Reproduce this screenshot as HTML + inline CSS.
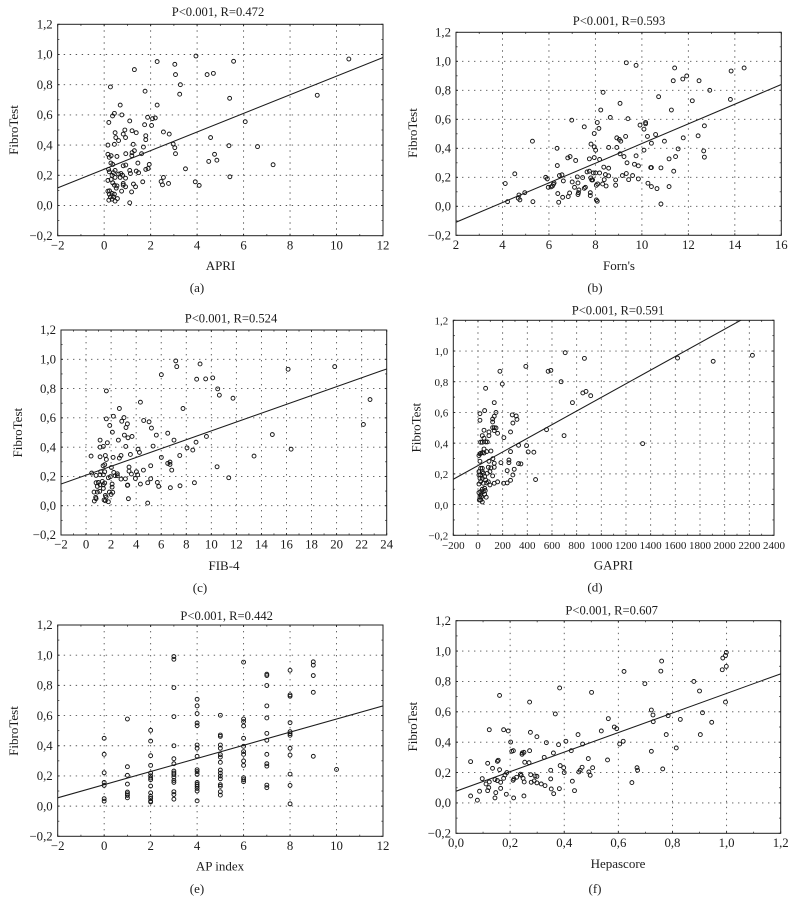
<!DOCTYPE html>
<html lang="en">
<head>
<meta charset="utf-8">
<title>FibroTest correlation scatter plots</title>
<style>
html,body{margin:0;padding:0;background:#fff;}
svg{display:block;}
text{font-family:"Liberation Serif",serif;fill:#1c1c1c;}
.title{font-size:12.6px;text-anchor:middle;}
.axis-title{font-size:13px;text-anchor:middle;}
.caption{font-size:13px;text-anchor:middle;}
</style>
</head>
<body>
<svg id="chart" xmlns="http://www.w3.org/2000/svg" width="796" height="915" viewBox="0 0 796 915">
<g id="panel-a">
<text class="title" x="218" y="16">P&lt;0.001, R=0.472</text>
<text class="axis-title" x="220.5" y="270">APRI</text>
<text class="axis-title" transform="translate(18,130) rotate(-90)">FibroTest</text>
<text class="caption" x="197" y="292">(a)</text>
</g>
<g id="panel-b">
<text class="title" x="619" y="25">P&lt;0.001, R=0.593</text>
<text class="axis-title" x="619" y="270">Forn's</text>
<text class="axis-title" transform="translate(417,133) rotate(-90)">FibroTest</text>
<text class="caption" x="595" y="292">(b)</text>
</g>
<g id="panel-c">
<text class="title" x="231" y="322.7">P&lt;0.001, R=0.524</text>
<text class="axis-title" x="224" y="570">FIB-4</text>
<text class="axis-title" transform="translate(22,432.7) rotate(-90)">FibroTest</text>
<text class="caption" x="200" y="592">(c)</text>
</g>
<g id="panel-d">
<text class="title" x="618" y="314.3">P&lt;0.001, R=0.591</text>
<text class="axis-title" x="613.3" y="569.3">GAPRI</text>
<text class="axis-title" transform="translate(420.5,427.7) rotate(-90)">FibroTest</text>
<text class="caption" x="595" y="591.7">(d)</text>
</g>
<g id="panel-e">
<text class="title" x="226.7" y="620">P&lt;0.001, R=0.442</text>
<text class="axis-title" x="220" y="870.7">AP index</text>
<text class="axis-title" transform="translate(18,731) rotate(-90)">FibroTest</text>
<text class="caption" x="197" y="893">(e)</text>
</g>
<g id="panel-f">
<text class="title" x="611.7" y="614.3">P&lt;0.001, R=0.607</text>
<text class="axis-title" x="618" y="868">Hepascore</text>
<text class="axis-title" transform="translate(417,726.7) rotate(-90)">FibroTest</text>
<text class="caption" x="595" y="893">(f)</text>
</g>
</svg>
<script>
const yTicks = [-0.2,0,0.2,0.4,0.6,0.8,1.0,1.2];

const aXTicks = [-2,0,2,4,6,8,10,12];
const bXTicks = [2,4,6,8,10,12,14,16];
const cXTicks = [-2,0,2,4,6,8,10,12,14,16,18,20,22,24];
const dXTicks = [-200,0,200,400,600,800,1000,1200,1400,1600,1800,2000,2200,2400];
const eXTicks = [-2,0,2,4,6,8,10,12];
const fXTicks = [0,0.2,0.4,0.6,0.8,1.0,1.2];

const aFit = [0.117,0.98];
const bFit = [-0.11,0.84];
const cFit = [0.148,0.934];
const dFit = [0.165,1.32];
const eFit = [0.055,0.664];
const fFit = [0.077,0.85];

const aPoints = [[10.53,.97],[9.17,.73],[7.27,.27],[6.6,.39],[6.07,.555],[5.4,.71],[5.57,.955],[4.7,.875],[4.43,.867],[3.95,.99],[3.04,.935],[3.07,.867],[3.28,.8],[3.25,.737],[2.28,.953],[1.3,.9],[.27,.785],[1.76,.757],[2.28,.665],[.69,.665],[.44,.61],[.36,.593],[.76,.6],[.2,.55],[1.1,.56],[1.87,.584],[2.08,.575],[2.2,.58],[1.74,.535],[2.04,.53],[.47,.482],[.89,.5],[1.2,.495],[1.38,.482],[.82,.473],[.5,.45],[.92,.45],[.62,.43],[.44,.405],[.16,.4],[1.25,.405],[1.79,.462],[1.79,.436],[1.69,.387],[2.55,.487],[2.8,.473],[2.97,.407],[3.04,.383],[3.07,.343],[4.58,.45],[5.37,.396],[4.75,.339],[4.85,.3],[4.5,.292],[5.41,.19],[3.5,.243],[3.92,.157],[4.09,.133],[2.55,.186],[2.45,.159],[2.51,.137],[2.77,.146],[.16,.339],[.3,.33],[.55,.325],[.22,.319],[.93,.343],[1.19,.33],[1.2,.35],[1.3,.363],[1.61,.343],[1.45,.281],[.29,.281],[.37,.272],[.82,.263],[.93,.268],[1.94,.272],[1.89,.245],[1.79,.239],[.19,.239],[.22,.223],[.47,.232],[1.1,.232],[1.38,.228],[1.48,.217],[1.13,.212],[.4,.217],[.34,.2],[.62,.208],[.72,.212],[.79,.2],[.69,.186],[.92,.181],[.47,.186],[.16,.166],[.3,.172],[.37,.15],[.44,.135],[.55,.13],[.82,.146],[.82,.135],[.92,.124],[.52,.115],[1.26,.142],[1.35,.124],[1.66,.157],[.75,.095],[1.18,.09],[.16,.095],[.23,.097],[.34,.08],[.44,.075],[.22,.075],[.27,.057],[.4,.057],[.2,.035],[.34,.042],[.47,.029],[.57,.046],[1.1,.018]];

const bPoints = [[13.84,.933],[14.4,.954],[13.81,.737],[12.92,.8],[12.46,.866],[12.17,.728],[12.69,.555],[12.42,.486],[12.66,.382],[12.69,.339],[11.41,.954],[11.35,.866],[11.76,.878],[11.93,.899],[11.27,.664],[11.78,.472],[11.56,.396],[11.45,.343],[11.17,.327],[11.37,.242],[11.17,.136],[10.72,.756],[10.59,.495],[10.97,.449],[10.82,.265],[10.82,.016],[10.41,.435],[10.24,.482],[10.16,.578],[10.16,.569],[10.09,.532],[9.92,.56],[10.09,.387],[10.38,.267],[10.41,.267],[10.26,.159],[10.41,.136],[10.65,.122],[9.06,.71],[9.33,.99],[9.75,.972],[9.4,.604],[8.33,.786],[8.23,.664],[8.64,.613],[8.08,.578],[8.15,.537],[7.95,.502],[6.98,.594],[7.52,.548],[8.92,.472],[9.03,.461],[9.09,.449],[9.3,.482],[8.92,.406],[8.57,.406],[7.81,.429],[7.95,.41],[8.01,.387],[9.06,.362],[9.23,.343],[9.75,.348],[9.36,.3],[9.68,.29],[9.85,.279],[7.95,.336],[7.74,.327],[8.18,.323],[6.81,.334],[6.91,.343],[7.15,.316],[6.35,.4],[5.29,.449],[6.36,.281],[4.53,.224],[4.12,.157],[8.36,.27],[8.57,.263],[7.64,.237],[7.74,.242],[7.91,.23],[8.01,.23],[8.18,.23],[8.43,.219],[8.57,.21],[9.16,.212],[9.33,.226],[9.6,.212],[9.43,.184],[9.85,.189],[8.87,.182],[8.87,.145],[8.46,.14],[8.31,.154],[8.1,.154],[8.04,.145],[8.38,.184],[7.8,.196],[7.84,.182],[7.88,.182],[7.45,.198],[7.22,.203],[7,.168],[7.25,.161],[5.86,.2],[5.93,.189],[6.45,.212],[6.56,.217],[6.62,.175],[6.22,.161],[6.19,.152],[6.15,.14],[6.09,.134],[5.97,.131],[7.1,.131],[7.29,.113],[7.27,.094],[7.25,.081],[6.89,.092],[6.83,.067],[6.59,.062],[6.38,.088],[7.78,.094],[7.78,.074],[7.52,.124],[7.57,.131],[4.96,.094],[4.71,.078],[4.68,.055],[4.75,.044],[5.31,.032],[4.22,.032],[6.42,.028],[8.04,.044],[8.08,.035]];

const cPoints = [[19.85,.95],[16.13,.932],[22.67,.725],[22.14,.555],[16.37,.386],[14.87,.486],[13.41,.339],[11.39,.191],[11.73,.734],[10.64,.755],[10.51,.798],[10.11,.873],[9.55,.866],[8.83,.864],[9.1,.968],[7.16,.989],[7.24,.95],[6.01,.895],[1.62,.784],[4.34,.707],[2.66,.664],[7.74,.664],[2.18,.611],[3.03,.602],[1.62,.593],[2.85,.577],[3.3,.559],[1.89,.548],[3.19,.534],[4.6,.582],[5.03,.573],[5.22,.53],[5.61,.482],[6.52,.495],[7.02,.448],[2.1,.502],[3.06,.482],[3.67,.473],[3.35,.464],[2.58,.448],[1.12,.448],[1.7,.43],[1.12,.4],[1.38,.405],[3.17,.405],[5.35,.407],[4.15,.386],[4.26,.364],[3.54,.35],[2.66,.325],[2.79,.343],[.4,.339],[1.12,.334],[1.54,.343],[1.62,.316],[2.16,.33],[6.01,.33],[7.48,.343],[8.06,.395],[8.52,.38],[8.78,.434],[9.61,.473],[6.52,.289],[6.7,.298],[6.7,.282],[6.84,.243],[5.16,.273],[4.58,.243],[3.43,.264],[3.43,.236],[3.62,.216],[4.02,.232],[4.12,.211],[3.94,.186],[10.46,.266],[2.02,.261],[1.49,.28],[1.36,.273],[1.49,.232],[1.17,.232],[.45,.223],[.8,.207],[1.12,.211],[1.38,.211],[2.21,.227],[2.5,.218],[2.32,.205],[2.5,.205],[1.78,.191],[1.94,.198],[2.79,.182],[3.14,.184],[5.16,.184],[5.69,.159],[4.92,.157],[4.34,.148],[3.3,.139],[3.33,.141],[5.8,.132],[6.73,.123],[7.5,.136],[8.65,.157],[2.08,.148],[2.08,.127],[1.49,.155],[1.38,.143],[.98,.159],[.8,.157],[1.12,.143],[.9,.132],[1.3,.166],[1.38,.118],[1.09,.098],[2.13,.091],[2,.077],[.64,.093],[.9,.093],[1.86,.093],[1.54,.07],[1.6,.059],[.77,.057],[.8,.048],[.66,.032],[1.44,.039],[1.54,.034],[1.78,.027],[3.38,.048],[4.92,.018]];

const dPoints = [[2225,.972],[1907,.933],[1618,.954],[1335,.397],[707,.989],[863,.952],[388,.9],[178,.868],[569,.868],[591,.874],[197,.785],[674,.8],[62,.757],[850,.727],[876,.737],[914,.709],[766,.664],[132,.664],[54,.612],[146,.6],[16,.592],[132,.575],[119,.557],[16,.549],[119,.538],[278,.584],[310,.577],[316,.555],[283,.531],[556,.488],[698,.449],[49,.484],[132,.501],[146,.499],[119,.501],[132,.482],[159,.464],[89,.473],[89,.449],[35,.449],[264,.473],[210,.436],[49,.432],[35,.406],[22,.406],[62,.408],[75,.408],[329,.386],[394,.384],[49,.362],[407,.343],[453,.341],[264,.345],[105,.349],[70,.345],[35,.338],[49,.336],[16,.33],[22,.334],[8,.319],[121,.299],[89,.282],[16,.282],[132,.269],[251,.29],[251,.273],[186,.273],[329,.267],[348,.265],[84,.243],[132,.243],[105,.239],[237,.221],[294,.23],[283,.193],[119,.187],[467,.163],[264,.158],[159,.148],[132,.139],[208,.139],[237,.141],[84,.148],[70,.141],[97,.128],[22,.236],[35,.236],[8,.215],[35,.215],[22,.193],[8,.193],[43,.204],[16,.171],[35,.171],[54,.182],[75,.204],[97,.215],[62,.16],[22,.15],[43,.139],[8,.134],[54,.106],[35,.1],[22,.085],[8,.078],[43,.085],[59,.091],[22,.063],[54,.067],[11,.03],[22,.03],[67,.048],[35,.017],[16,.048],[30,.052]];

const ePoints = [[0,.449],[0,.343],[0,.221],[0,.157],[0,.137],[0,.049],[0,.033],[1,.577],[1,.261],[1,.204],[1,.146],[1,.093],[1,.082],[1,.071],[1,.055],[2,.502],[2,.431],[2,.334],[2,.27],[2,.219],[2,.201],[2,.186],[2,.175],[2,.133],[2,.088],[2,.064],[2,.051],[2,.033],[2,.027],[3,.991],[3,.973],[3,.785],[3,.593],[3,.4],[3,.314],[3,.281],[3,.232],[3,.219],[3,.208],[3,.192],[3,.17],[3,.157],[3,.095],[3,.077],[3,.046],[4,.708],[4,.664],[4,.613],[4,.551],[4,.533],[4,.405],[4,.383],[4,.33],[4,.241],[4,.228],[4,.21],[4,.157],[4,.144],[4,.131],[4,.117],[4,.1],[4,.035],[5,.602],[5,.471],[5,.462],[5,.405],[5,.383],[5,.341],[5,.325],[5,.29],[5,.239],[5,.219],[5,.199],[5,.181],[5,.142],[5,.131],[5,.095],[5,.073],[6,.954],[6,.577],[6,.56],[6,.531],[6,.449],[6,.396],[6,.361],[6,.343],[6,.299],[6,.27],[6,.188],[6,.175],[6,.162],[7,.874],[7,.865],[7,.799],[7,.664],[7,.584],[7,.482],[7,.436],[7,.343],[7,.281],[7,.265],[7,.139],[7,.122],[8,.9],[8,.737],[8,.728],[8,.553],[8,.493],[8,.48],[8,.469],[8,.383],[8,.338],[8,.212],[8,.137],[8,.015],[9,.956],[9,.934],[9,.865],[9,.754],[9,.33],[10,.243]];

const fPoints = [[.999,.991],[.996,.971],[.986,.954],[.984,.877],[.999,.899],[.996,.664],[.76,.934],[.757,.868],[.621,.866],[.698,.785],[.879,.8],[.9,.737],[.501,.728],[.383,.757],[.161,.708],[.272,.664],[.722,.612],[.728,.579],[.911,.594],[.729,.535],[.784,.575],[.829,.55],[.945,.531],[.903,.45],[.563,.555],[.367,.586],[.585,.5],[.594,.489],[.537,.474],[.451,.45],[.777,.45],[.814,.362],[.722,.34],[.618,.406],[.605,.388],[.123,.482],[.176,.482],[.193,.474],[.275,.465],[.299,.436],[.202,.401],[.334,.397],[.379,.384],[.406,.406],[.468,.388],[.426,.344],[.36,.329],[.326,.3],[.206,.34],[.212,.344],[.244,.32],[.251,.333],[.245,.329],[.272,.344],[.254,.268],[.27,.265],[.156,.281],[.153,.274],[.054,.272],[.117,.261],[.135,.228],[.161,.219],[.188,.2],[.181,.184],[.176,.162],[.097,.16],[.111,.125],[.123,.138],[.144,.154],[.153,.147],[.165,.136],[.211,.149],[.214,.158],[.224,.169],[.238,.189],[.241,.182],[.248,.162],[.252,.138],[.276,.186],[.292,.178],[.299,.175],[.289,.145],[.278,.136],[.299,.132],[.315,.125],[.329,.114],[.35,.215],[.35,.158],[.352,.092],[.385,.246],[.398,.232],[.4,.2],[.43,.143],[.361,.061],[.382,.094],[.438,.081],[.466,.235],[.459,.215],[.454,.204],[.489,.292],[.491,.204],[.496,.182],[.505,.232],[.56,.283],[.65,.134],[.669,.232],[.671,.215],[.764,.224],[.087,.077],[.121,.101],[.117,.081],[.165,.096],[.147,.068],[.186,.057],[.054,.046],[.079,.018],[.144,.033],[.213,.033],[.251,.046]];

const SVGNS = 'http://www.w3.org/2000/svg';

function make(tag, parent, attrs) {
  const el = document.createElementNS(SVGNS, tag);
  for (const k in attrs) el.setAttribute(k, attrs[k]);
  parent.appendChild(el);
  return el;
}

function yLabel(v) {
  const s = Math.abs(v).toFixed(1).replace('.', ',');
  return v < 0 ? '\u2212' + s : s;
}

function drawPanel(id, box, xTicks, xDecimals, points, fit, tickFont) {
  const g = document.getElementById(id);
  const xMin = xTicks[0];
  const xMax = xTicks[xTicks.length - 1];
  const yMin = yTicks[0];
  const yMax = yTicks[yTicks.length - 1];
  const sx = v => box.l + (v - xMin) / (xMax - xMin) * (box.r - box.l);
  const sy = v => box.b - (v - yMin) / (yMax - yMin) * (box.b - box.t);

  const clipId = id + '-clip';
  const defs = make('defs', g, {});
  const clip = make('clipPath', defs, {id: clipId});
  make('rect', clip, {x: box.l, y: box.t, width: box.r - box.l, height: box.b - box.t});

  const grid = {stroke: '#555', 'stroke-width': 0.9, 'stroke-dasharray': '1.4 4.6'};
  xTicks.forEach(function (v, i) {
    const x = sx(v);
    if (i > 0 && i < xTicks.length - 1) {
      const gl = make('line', g, Object.assign({x1: x, x2: x, y1: box.t, y2: box.b}, grid));
      
      
    }
    [box.t, box.b].forEach(function (yy) {
      make('line', g, {x1: x, x2: x, y1: yy, y2: yy === box.t ? yy + 2 : yy - 2, stroke: '#222', 'stroke-width': 0.9});
      if (i < xTicks.length - 1) {
        const m = sx((v + xTicks[i + 1]) / 2);
        make('line', g, {x1: m, x2: m, y1: yy, y2: yy === box.t ? yy + 1.6 : yy - 1.6, stroke: '#333', 'stroke-width': 0.8});
      }
    });
    const t = make('text', g, {x: x, y: box.b + 13.6, 'text-anchor': 'middle', 'font-size': tickFont});
    
    
    const neg = v < 0 ? '\u2212' : '';
    t.textContent = neg + (xDecimals ? Math.abs(v).toFixed(xDecimals).replace('.', ',') : Math.abs(v));
  });

  yTicks.forEach(function (v, i) {
    const y = sy(v);
    if (i > 0 && i < yTicks.length - 1) {
      const gl = make('line', g, Object.assign({x1: box.l, x2: box.r, y1: y, y2: y}, grid));
      
      
    }
    [box.l, box.r].forEach(function (xx) {
      make('line', g, {x1: xx, x2: xx === box.l ? xx + 2 : xx - 2, y1: y, y2: y, stroke: '#222', 'stroke-width': 0.9});
      if (i < yTicks.length - 1) {
        const m = sy((v + yTicks[i + 1]) / 2);
        make('line', g, {x1: xx, x2: xx === box.l ? xx + 1.6 : xx - 1.6, y1: m, y2: m, stroke: '#333', 'stroke-width': 0.8});
      }
    });
    const t = make('text', g, {x: box.l - 5, y: y + 4.2, 'text-anchor': 'end', 'font-size': tickFont});
    
    
    t.textContent = yLabel(v);
  });

  const frame = make('rect', g, {x: box.l, y: box.t, width: box.r - box.l, height: box.b - box.t, fill: 'none', stroke: '#222', 'stroke-width': 1});
  
  

  const fitLine = make('line', g, {x1: sx(xMin), y1: sy(fit[0]), x2: sx(xMax), y2: sy(fit[1]), stroke: '#1c1c1c', 'stroke-width': 1.05, 'clip-path': 'url(#' + clipId + ')'});
  
  

  points.forEach(function (p) {
    const c = make('circle', g, {cx: sx(p[0]), cy: sy(p[1]), r: 1.95, fill: 'none', stroke: '#151515', 'stroke-width': 0.95});
    
    
  });
}

drawPanel('panel-a', {l: 57.7, r: 383, t: 24.3, b: 235.7}, aXTicks, 0, aPoints, aFit, 12.8);
drawPanel('panel-b', {l: 456, r: 781.3, t: 32.3, b: 235.3}, bXTicks, 0, bPoints, bFit, 12.8);
drawPanel('panel-c', {l: 61, r: 386.7, t: 330, b: 535}, cXTicks, 0, cPoints, cFit, 12.8);
drawPanel('panel-d', {l: 453.3, r: 774, t: 320.3, b: 535.3}, dXTicks, 0, dPoints, dFit, 11);
drawPanel('panel-e', {l: 57.7, r: 383, t: 625, b: 836.3}, eXTicks, 0, ePoints, eFit, 12.8);
drawPanel('panel-f', {l: 456, r: 780.7, t: 620.7, b: 833.3}, fXTicks, 1, fPoints, fFit, 12.8);
</script>
</body>
</html>
